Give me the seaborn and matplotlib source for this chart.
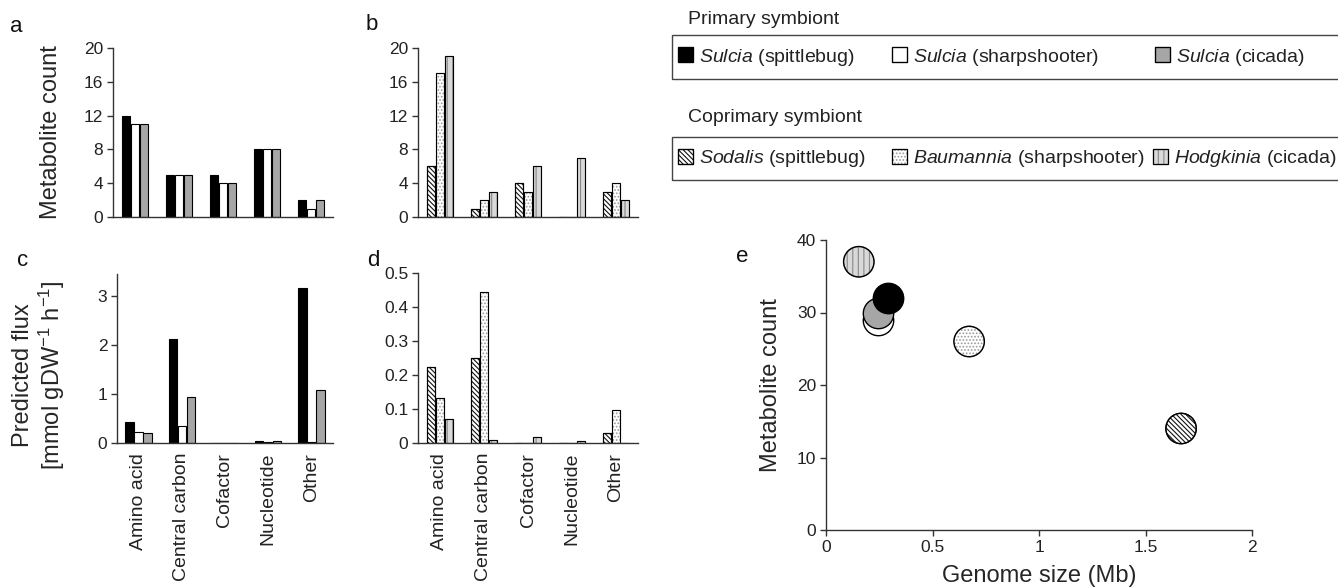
import matplotlib
matplotlib.use('Agg')
import matplotlib.pyplot as plt
from matplotlib.patches import Patch, Rectangle
import pandas as pd
import seaborn as sns

sns.set_style('ticks')
plt.rcParams['font.family'] = ['Liberation Sans', 'DejaVu Sans']
plt.rcParams['mathtext.fontset'] = 'custom'
plt.rcParams['mathtext.rm'] = 'Liberation Sans'
plt.rcParams['mathtext.it'] = 'Liberation Sans:italic'
plt.rcParams['hatch.linewidth'] = 0.8

# --- data ---
categories = ['Amino acid', 'Central carbon', 'Cofactor', 'Nucleotide', 'Other']
primary = ['Sulcia (spittlebug)', 'Sulcia (sharpshooter)', 'Sulcia (cicada)']
coprimary = ['Sodalis (spittlebug)', 'Baumannia (sharpshooter)', 'Hodgkinia (cicada)']

# a: metabolite count, Sulcia
count_sulcia_spittlebug = [12, 5, 5, 8, 2]
count_sulcia_sharpshooter = [11, 5, 4, 8, 1]
count_sulcia_cicada = [11, 5, 4, 8, 2]
# b: metabolite count, coprimary symbionts
count_sodalis = [6, 1, 4, 0, 3]
count_baumannia = [17, 2, 3, 0, 4]
count_hodgkinia = [19, 3, 6, 7, 2]
# c: predicted flux, Sulcia
flux_sulcia_spittlebug = [0.42, 2.13, 0.01, 0.05, 3.16]
flux_sulcia_sharpshooter = [0.22, 0.34, 0.01, 0.02, 0.02]
flux_sulcia_cicada = [0.21, 0.94, 0.01, 0.04, 1.08]
# d: predicted flux, coprimary symbionts
flux_sodalis = [0.223, 0.249, 0.0, 0.0, 0.028]
flux_baumannia = [0.133, 0.445, 0.0, 0.0, 0.098]
flux_hodgkinia = [0.070, 0.008, 0.017, 0.005, 0.0]
# e: genome size vs total metabolite count (primary + coprimary order)
genome_size = [0.29, 0.243, 0.243, 1.667, 0.672, 0.154]
metabolite_total = [32, 29, 30, 14, 26, 37]

# facecolour, hatch, hatch colour
style = {
    'Sulcia (spittlebug)': ('black', '', 'black'),
    'Sulcia (sharpshooter)': ('white', '', 'black'),
    'Sulcia (cicada)': ('#a6a6a6', '', 'black'),
    'Sodalis (spittlebug)': ('white', '\\' * 7, '#111111'),
    'Baumannia (sharpshooter)': ('white', '.....', '#999999'),
    'Hodgkinia (cicada)': ('#d9d9d9', '|||', '#888888'),
}
legend_labels = {
    'Sulcia (spittlebug)': r'$\it{Sulcia}$ (spittlebug)',
    'Sulcia (sharpshooter)': r'$\it{Sulcia}$ (sharpshooter)',
    'Sulcia (cicada)': r'$\it{Sulcia}$ (cicada)',
    'Sodalis (spittlebug)': r'$\it{Sodalis}$ (spittlebug)',
    'Baumannia (sharpshooter)': r'$\it{Baumannia}$ (sharpshooter)',
    'Hodgkinia (cicada)': r'$\it{Hodgkinia}$ (cicada)',
}

TICK_FS = 12.5


def long_table(names, series):
    rows = []
    for name, vals in zip(names, series):
        for cat, v in zip(categories, vals):
            rows.append({'category': cat, 'organism': name, 'value': v})
    return pd.DataFrame(rows)


def style_axis(ax):
    sns.despine(ax=ax)
    for s in ['left', 'bottom']:
        ax.spines[s].set_linewidth(1.0)
        ax.spines[s].set_color('#333333')
    ax.tick_params(axis='y', direction='out', length=4, width=1, color='#333333',
                   labelsize=TICK_FS, labelcolor='#222222', pad=3)


def bar_panel(ax, names, series, ylim, yticks, yticklabels, show_cats):
    df = long_table(names, series)
    sns.barplot(data=df, x='category', y='value', hue='organism', hue_order=names,
                order=categories, palette={n: style[n][0] for n in names},
                edgecolor='black', linewidth=0.8, width=0.63, gap=0.08,
                saturation=1, errorbar=None, legend=False, ax=ax)
    for name, cont in zip(names, ax.containers):
        fc, hatch, hc = style[name]
        if hatch:
            for p in cont:
                p.set_hatch(hatch)
                p.set_edgecolor(hc)
                ax.add_patch(Rectangle(p.get_xy(), p.get_width(), p.get_height(),
                                       fill=False, edgecolor='black', lw=0.8))
    ax.set_xlim(-0.5, 4.5)
    ax.set_ylim(*ylim)
    ax.set_yticks(yticks)
    ax.set_yticklabels(yticklabels)
    ax.set_xlabel('')
    ax.set_ylabel('')
    style_axis(ax)
    ax.tick_params(axis='x', length=0)
    if show_cats:
        ax.set_xticks(range(len(categories)))
        ax.set_xticklabels(categories, rotation=90, fontsize=14, color='#222222')
        ax.tick_params(axis='x', pad=7)
    else:
        ax.set_xticklabels([])


W, H = 1338, 588
fig = plt.figure(figsize=(W / 100, H / 100), dpi=100)


def px_axes(x0, y0, x1, y1):
    return fig.add_axes([x0 / W, 1 - y1 / H, (x1 - x0) / W, (y1 - y0) / H])


ax_a = px_axes(113, 48, 333, 217)
ax_b = px_axes(418, 48, 638, 217)
ax_c = px_axes(117, 274, 333, 443)
ax_d = px_axes(418, 273, 638, 443)
ax_e = px_axes(826, 240, 1252, 530)

bar_panel(ax_a, primary, [count_sulcia_spittlebug, count_sulcia_sharpshooter, count_sulcia_cicada],
          (0, 20), [0, 4, 8, 12, 16, 20], ['0', '4', '8', '12', '16', '20'], False)
bar_panel(ax_b, coprimary, [count_sodalis, count_baumannia, count_hodgkinia],
          (0, 20), [0, 4, 8, 12, 16, 20], ['0', '4', '8', '12', '16', '20'], False)
bar_panel(ax_c, primary, [flux_sulcia_spittlebug, flux_sulcia_sharpshooter, flux_sulcia_cicada],
          (0, 3.45), [0, 1, 2, 3], ['0', '1', '2', '3'], True)
bar_panel(ax_d, coprimary, [flux_sodalis, flux_baumannia, flux_hodgkinia],
          (0, 0.5), [0, 0.1, 0.2, 0.3, 0.4, 0.5], ['0', '0.1', '0.2', '0.3', '0.4', '0.5'], True)

ax_a.set_ylabel('Metabolite count', fontsize=17)
ax_a.yaxis.set_label_coords((62 - 113) / 220, 0.5)
ax_c.set_ylabel('Predicted flux\n[mmol gDW$^{-1}$ h$^{-1}$]', fontsize=17, linespacing=1.1)
ax_c.yaxis.set_label_coords((67 - 117) / 216, 0.40)

# e: scatter
draw_order = ['Hodgkinia (cicada)', 'Baumannia (sharpshooter)', 'Sodalis (spittlebug)',
              'Sulcia (sharpshooter)', 'Sulcia (cicada)', 'Sulcia (spittlebug)']
all_names = primary + coprimary
for name in draw_order:
    i = all_names.index(name)
    fc, hatch, hc = style[name]
    pt = pd.DataFrame({'x': [genome_size[i]], 'y': [metabolite_total[i]]})
    if hatch:
        sns.scatterplot(data=pt, x='x', y='y', s=480, color=fc, edgecolor=hc,
                        linewidth=0.8, legend=False, ax=ax_e, zorder=3)
        ax_e.collections[-1].set_hatch(hatch)
        sns.scatterplot(data=pt, x='x', y='y', s=480, facecolor='none', edgecolor='black',
                        linewidth=1.0, legend=False, ax=ax_e, zorder=3)
    else:
        sns.scatterplot(data=pt, x='x', y='y', s=480, color=fc, edgecolor='black',
                        linewidth=1.0, legend=False, ax=ax_e, zorder=3)

ax_e.set_xlim(0, 2)
ax_e.set_ylim(0, 40)
ax_e.set_xticks([0, 0.5, 1, 1.5, 2])
ax_e.set_xticklabels(['0', '0.5', '1', '1.5', '2'])
ax_e.set_yticks([0, 10, 20, 30, 40])
style_axis(ax_e)
ax_e.tick_params(axis='x', direction='out', length=4, width=1, color='#333333',
                 labelsize=TICK_FS, labelcolor='#222222')
ax_e.set_xlabel('Genome size (Mb)', fontsize=17, labelpad=7)
ax_e.set_ylabel('Metabolite count', fontsize=17)
ax_e.yaxis.set_label_coords((782 - 826) / 426, 0.5)

# panel letters
for letter, (x, y) in zip('abcde', [(10, 26), (366, 25), (17, 261), (367, 260), (736, 256)]):
    fig.text(x / W, 1 - y / H, letter, fontsize=16, ha='left', va='center', color='#111111')

# legends: title above a framed row of three entries
legend_rows = [('Primary symbiont', primary, 20, 35, 79, [678, 892, 1155]),
               ('Coprimary symbiont', coprimary, 118, 137, 180, [678, 892, 1153])]
for title, names, ty, box_top, box_bot, item_x in legend_rows:
    fig.text(688 / W, 1 - ty / H, title, fontsize=14, ha='left', va='center', color='#222222')
    fig.add_artist(Rectangle((672 / W, 1 - box_bot / H), 680 / W, (box_bot - box_top) / H,
                             transform=fig.transFigure, fill=False,
                             edgecolor='#444444', linewidth=1.0))
    for n, x in zip(names, item_x):
        fc, hatch, hc = style[n]
        handle = (Patch(facecolor=fc, edgecolor=hc, hatch=hatch, lw=0.8),
                  Patch(fill=False, edgecolor='black', lw=0.9))
        leg = fig.legend([handle], [legend_labels[n]], loc='center left',
                         bbox_to_anchor=(x / W, 1 - (box_top + box_bot) / 2 / H),
                         frameon=False, fontsize=14, handlelength=0.78, handleheight=0.78,
                         handletextpad=0.3, borderpad=0, borderaxespad=0)
        for t in leg.get_texts():
            t.set_color('#222222')

fig.savefig('out.png', dpi=100)
